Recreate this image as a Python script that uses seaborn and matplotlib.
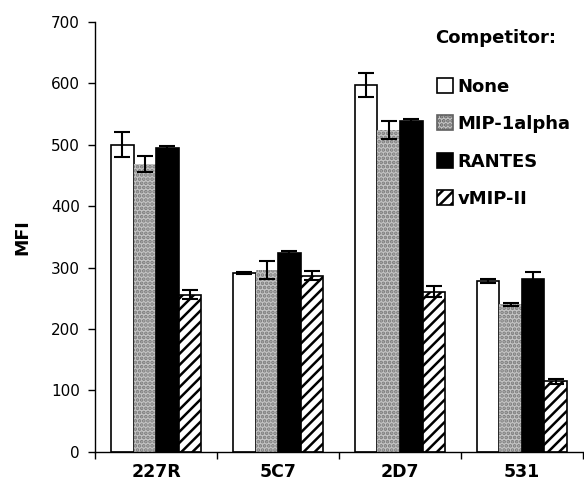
import numpy as np
import pandas as pd
import matplotlib
matplotlib.use("Agg")
import matplotlib.pyplot as plt
import seaborn as sns
from matplotlib.patches import Patch

categories = ["227R", "5C7", "2D7", "531"]
competitors = ["None", "MIP-1alpha", "RANTES", "vMIP-II"]
mfi_none = [500, 291, 597, 278]
mfi_mip = [469, 296, 524, 240]
mfi_rantes = [495, 324, 538, 282]
mfi_vmip = [256, 287, 261, 115]
err_none = [20, 2, 19, 3]
err_mip = [13, 14, 15, 2]
err_rantes = [3, 3, 3, 10]
err_vmip = [7, 7, 9, 4]
yticks = [0, 100, 200, 300, 400, 500, 600, 700]

sns.set_theme(style="white")
plt.rcParams["font.family"] = ["DejaVu Sans"]
for k in ["text.color", "axes.labelcolor", "xtick.color", "ytick.color"]:
    plt.rcParams[k] = "black"
plt.rcParams["hatch.linewidth"] = 1.8

vals = [mfi_none, mfi_mip, mfi_rantes, mfi_vmip]
errs = [err_none, err_mip, err_rantes, err_vmip]
rows = []
for comp, v, e in zip(competitors, vals, errs):
    for cat, vv, ee in zip(categories, v, e):
        rows.append({"Antibody": cat, "Competitor": comp, "MFI": vv, "err": ee})
df = pd.DataFrame(rows)

fig = plt.figure(figsize=(5.84, 4.95), dpi=100)
ax = fig.add_axes([0.163, 0.087, 0.835, 0.869])

face = {"None": "white", "MIP-1alpha": "#c4c4c4", "RANTES": "black", "vMIP-II": "white"}
hatch = {"None": None, "MIP-1alpha": "....", "RANTES": None, "vMIP-II": "///"}

sns.barplot(data=df, x="Antibody", y="MFI", hue="Competitor", order=categories,
            hue_order=competitors, palette=face, errorbar=None, width=0.74,
            edgecolor="black", linewidth=1.2, ax=ax, legend=False)

for i, comp in enumerate(competitors):
    cont = ax.containers[i]
    xs = []
    for p in cont.patches:
        if hatch[comp]:
            p.set_hatch(hatch[comp])
            if comp == "MIP-1alpha":
                p.set_edgecolor("#7a7a7a")
                p.set_linewidth(0.0)
        xs.append(p.get_x() + p.get_width() / 2)
    ax.errorbar(xs, vals[i], yerr=errs[i], fmt="none", ecolor="black",
                elinewidth=1.5, capsize=6, capthick=1.5, zorder=5)

ax.set_ylim(0, 700)
ax.set_xlim(-0.5, 3.5)
ax.set_yticks(yticks)
ax.set_yticklabels([str(t) for t in yticks], fontsize=11)
ax.set_xticks(range(len(categories)))
ax.set_xticklabels(categories, fontsize=12.5, fontweight="bold")
ax.set_xticks([-0.5, 0.5, 1.5, 2.5, 3.5], minor=True)
ax.tick_params(axis="x", which="major", length=0, pad=8)
ax.tick_params(axis="x", which="minor", length=5, width=1, color="black", direction="out", bottom=True)
ax.tick_params(axis="y", length=5, width=1, color="black", direction="out", left=True, pad=6)
ax.set_xlabel("")
ax.set_ylabel("MFI", fontsize=12.5, fontweight="bold", labelpad=14)
for s in ["top", "right"]:
    ax.spines[s].set_visible(False)
for s in ["left", "bottom"]:
    ax.spines[s].set_color("black")
    ax.spines[s].set_linewidth(1.0)

handles = []
for comp in competitors:
    if comp == "MIP-1alpha":
        h = Patch(facecolor=face[comp], edgecolor="#606060", hatch="....", linewidth=1.2, label=comp)
    else:
        h = Patch(facecolor=face[comp], edgecolor="black", hatch=hatch[comp], linewidth=1.2, label=comp)
    handles.append(h)
leg = ax.legend(handles=handles, loc="upper left",
                bbox_to_anchor=(0.700, 0.870), frameon=False,
                prop={"weight": "bold", "size": 13}, labelspacing=1.08,
                handlelength=0.9, handleheight=0.9, handletextpad=0.25,
                borderaxespad=0.0, borderpad=0.0)
ax.text(0.697, 0.963, "Competitor:", transform=ax.transAxes, fontsize=13,
        fontweight="bold", ha="left", va="center")

fig.savefig("out.png", dpi=100)
